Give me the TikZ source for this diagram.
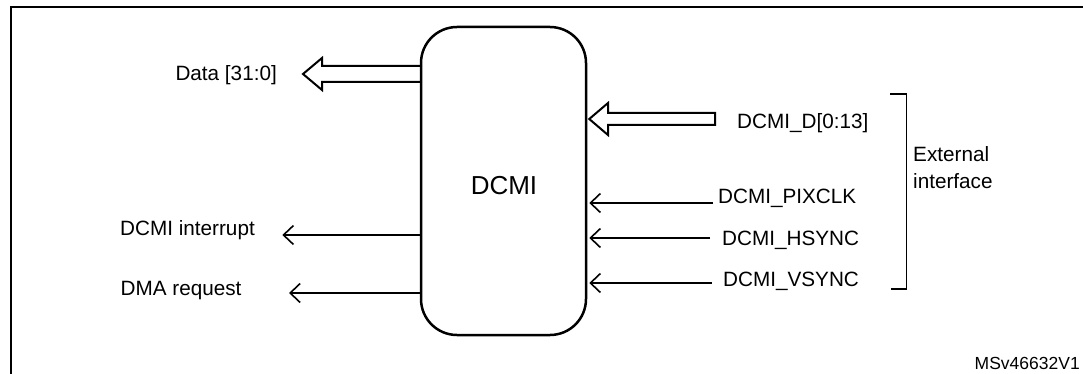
\documentclass[tikz,border=0pt]{standalone}
\usepackage{fontspec}
\setmainfont{Liberation Sans}
\usetikzlibrary{arrows.meta,calc}
\begin{document}
\begin{tikzpicture}[x=1pt,y=-1pt,
  lbl/.style={inner sep=0pt, font=\fontsize{20.7}{24}\selectfont},
  sig/.style={line width=1.6pt, -{Straight Barb[length=10pt,width=19pt]}},
  bus/.style={line width=2pt, line join=miter},
  frame/.style={line width=2.2pt},
  brk/.style={line width=1.2pt},
]
\useasboundingbox (0,0) rectangle (1083,374);
\begin{scope}
  \clip (0,0) rectangle (1083,374);
  \draw[frame] (11,390) -- (11,7) -- (1100,7);
\end{scope}

% main block
\node[draw, line width=2.5pt, rounded corners=36pt, minimum width=165pt, minimum height=308pt, inner sep=0pt] (dcmi) at (503.5,181) {};
\node[inner sep=0pt, anchor=base, font=\fontsize{26}{30}\selectfont] (dcmilbl) at (504,194) {DCMI};

% Data bus (output, left)
\coordinate (dataTip) at (303,74);
\draw[bus] (dcmi.west |- 0,66) -- (322,66) -- (322,58) -- (dataTip) -- (322,90) -- (322,82) -- (dcmi.west |- 0,82);
\node[lbl, anchor=base east] (data) at (277,80.5) {Data [31:0]};

% DCMI_D bus (input, right)
\coordinate (dEnd) at (715,119);
\coordinate (dTip) at ($(dcmi.east |- dEnd)+(2,0)$);
\draw[bus] (dEnd |- 0,113) -- (608,113) -- (608,103) -- (dTip) -- (608,135) -- (608,125) -- (dEnd |- 0,125) -- cycle;
\node[lbl, anchor=base west] (dd) at (737,129) {DCMI\_D[0:13]};

% input signals
\coordinate (pixS) at (713,203);
\coordinate (hsS) at (710,238);
\coordinate (vsS) at (711.7,283);
\draw[sig] (pixS) -- ($(dcmi.east |- pixS)+(2,0)$);
\draw[sig] (hsS) -- ($(dcmi.east |- hsS)+(2,0)$);
\draw[sig] (vsS) -- ($(dcmi.east |- vsS)+(2,0)$);
\node[lbl, anchor=base west] (pix) at (718,204) {DCMI\_PIXCLK};
\node[lbl, anchor=base west] (hs) at (722,245) {DCMI\_HSYNC};
\node[lbl, anchor=base west] (vs) at (723,286) {DCMI\_VSYNC};

% output signals
\coordinate (irqT) at (282.3,235);
\coordinate (dmaT) at (289,293);
\draw[sig] (dcmi.west |- irqT) -- (irqT);
\draw[sig] (dcmi.west |- dmaT) -- (dmaT);
\node[lbl, anchor=base east] (irq) at (255,235.5) {DCMI interrupt};
\node[lbl, anchor=base east] (dma) at (241.7,295.4) {DMA request};

% bracket
\coordinate (bt) at (906.7,94);
\coordinate (bb) at (906.7,289);
\draw[brk] (890,94) -- (bt) -- (bb) -- (891,289);
\node[lbl, anchor=base west] (ext) at (913,162) {External};
\node[lbl, anchor=base west] (intf) at (913,188) {interface};

\node[inner sep=0pt, anchor=base east, font=\fontsize{17.5}{20}\selectfont] (ms) at (1080,369.8) {MSv46632V1};
\end{tikzpicture}
\end{document}
